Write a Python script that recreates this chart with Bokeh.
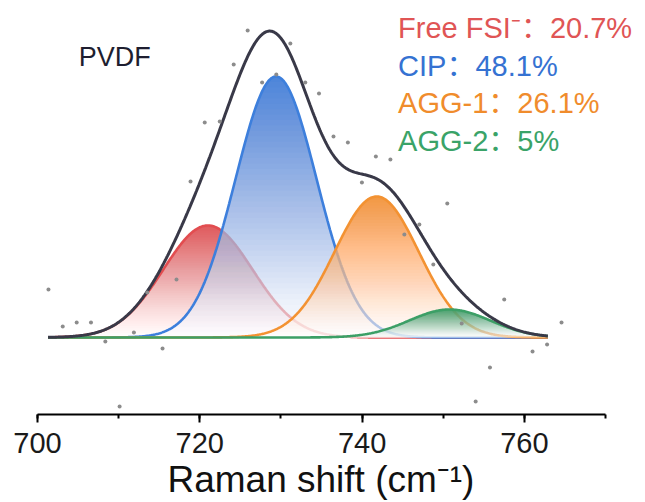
import numpy as np
from bokeh.plotting import figure
from bokeh.models import Range1d, SingleIntervalTicker, ColumnDataSource
from bokeh.core.properties import value
from bokeh.embed import file_html
from bokeh.resources import INLINE

# ---- data ----
peak_names = ["Free FSI\u207b", "CIP", "AGG-1", "AGG-2"]
peak_pct = ["20.7%", "48.1%", "26.1%", "5%"]
peak_centers = [721.0, 729.4, 741.8, 750.8]
peak_heights = [1.12, 2.61, 1.41, 0.28]
peak_sigmas = [5.5, 5.0, 5.2, 5.0]
fit_start, fit_end = 701.3, 762.9

raw_x = [725.90, 731.16, 724.18, 729.43, 727.68, 733.00, 734.69, 720.61, 722.46,
         718.86, 701.35, 717.13, 713.53, 703.11, 704.83, 706.59, 711.88, 708.36,
         715.41, 710.12, 741.70, 743.49, 739.98, 750.50, 747.06, 745.21, 748.78,
         757.52, 764.58, 752.28, 762.80, 761.01, 755.76, 754.00, 736.48, 738.25]
raw_y = [3.07, 2.94, 2.73, 2.63, 2.55, 2.55, 2.44, 2.15, 2.16,
         1.56, 0.48, 0.58, 0.45, 0.11, 0.15, 0.15, 0.05, -0.04,
         -0.11, -0.69, 1.81, 1.78, 1.55, 1.34, 1.13, 1.03, 0.73,
         0.38, 0.15, 0.14, -0.07, -0.14, -0.30, -0.64, 2.01, 1.95]

x_ticks = [700, 720, 740, 760]
x_axis_end = 770
sample_label = "PVDF"
x_title = "Raman shift (cm\u207b\u00b9)"

# ---- styles ----
line_colors = ["#e24d50", "#3d7fdc", "#f39232", "#3c9f66"]
text_colors = ["#e05555", "#3572d2", "#f08c2c", "#3aa368"]
FONT = "Liberation Sans"
LEG_FONT = "Liberation Sans, Noto Sans CJK SC"

p = figure(width=645, height=502, output_backend="svg", toolbar_location=None,
           x_range=Range1d(700, 774.93), y_range=Range1d(-0.77, 3.37),
           min_border_left=37, min_border_right=0, min_border_top=0,
           min_border_bottom=88, y_axis_location=None)
p.outline_line_color = None
p.xgrid.visible = False
p.ygrid.visible = False
p.background_fill_color = "white"
p.border_fill_color = "white"

xs = np.linspace(fit_start, fit_end, 600)
curves = []
for c, h, s in zip(peak_centers, peak_heights, peak_sigmas):
    curves.append(h * np.exp(-(xs - c) ** 2 / (2 * s * s)))
envelope = np.sum(curves, axis=0)

N = 48
def opac(f):
    return 0.88 * f ** 1.15

for curve, h, col in zip(curves, peak_heights, line_colors):
    p.varea(x=xs, y1=np.zeros_like(xs), y2=curve, fill_color="white", fill_alpha=0.6)
    for k in range(N):
        lo = h * k / N
        o0, o1 = opac(k / N), opac((k + 1) / N)
        a = 1 - (1 - o1) / (1 - o0)
        y2 = np.maximum(curve, lo)
        p.varea(x=xs, y1=np.full_like(xs, lo), y2=y2, fill_color=col, fill_alpha=a)
    p.line(xs, curve, line_color=col, line_width=2.6)

p.line(xs, envelope, line_color="#393948", line_width=3)

p.scatter(raw_x, raw_y, size=4, fill_color="#8c8c8c", line_color=None)

# sample label
p.text(x=[705.08], y=[2.81], text=[sample_label], text_font=value(FONT),
       text_font_size=value("27px"), text_color="#1e1e30",
       text_baseline="alphabetic", text_align="left")

# percentage legend
leg_y = [3.10, 2.72, 2.345, 1.97]
src = ColumnDataSource(dict(
    x=[744.44] * 4, y=leg_y,
    t=[f"{n}\uff1a{v}" for n, v in zip(peak_names, peak_pct)],
    c=text_colors))
p.text(x="x", y="y", text="t", text_color="c", source=src,
       text_font=value(LEG_FONT), text_font_size=value("29px"),
       text_baseline="alphabetic", text_align="left")

ax = p.xaxis[0]
ax.bounds = (x_ticks[0], x_axis_end)
ax.ticker = SingleIntervalTicker(interval=20, num_minor_ticks=2)
ax.axis_line_width = 2
ax.axis_line_color = "black"
ax.major_tick_out = 8
ax.major_tick_in = 0
ax.minor_tick_out = 4
ax.minor_tick_in = 0
ax.major_tick_line_width = 2
ax.minor_tick_line_width = 2
ax.major_tick_line_color = "black"
ax.minor_tick_line_color = "black"
ax.major_label_text_font = FONT
ax.major_label_text_font_size = "29px"
ax.major_label_text_color = "#1a1a1a"
ax.major_label_standoff = 10
# trailing no-break spaces keep the title centred under the axis line (700-770)
ax.axis_label = x_title + "\u00a0" * 4
ax.axis_label_text_font = FONT
ax.axis_label_text_font_size = "37px"
ax.axis_label_text_font_style = "normal"
ax.axis_label_text_color = "#111111"
ax.axis_label_standoff = 3

open("out.html", "w").write(file_html(p, INLINE))
